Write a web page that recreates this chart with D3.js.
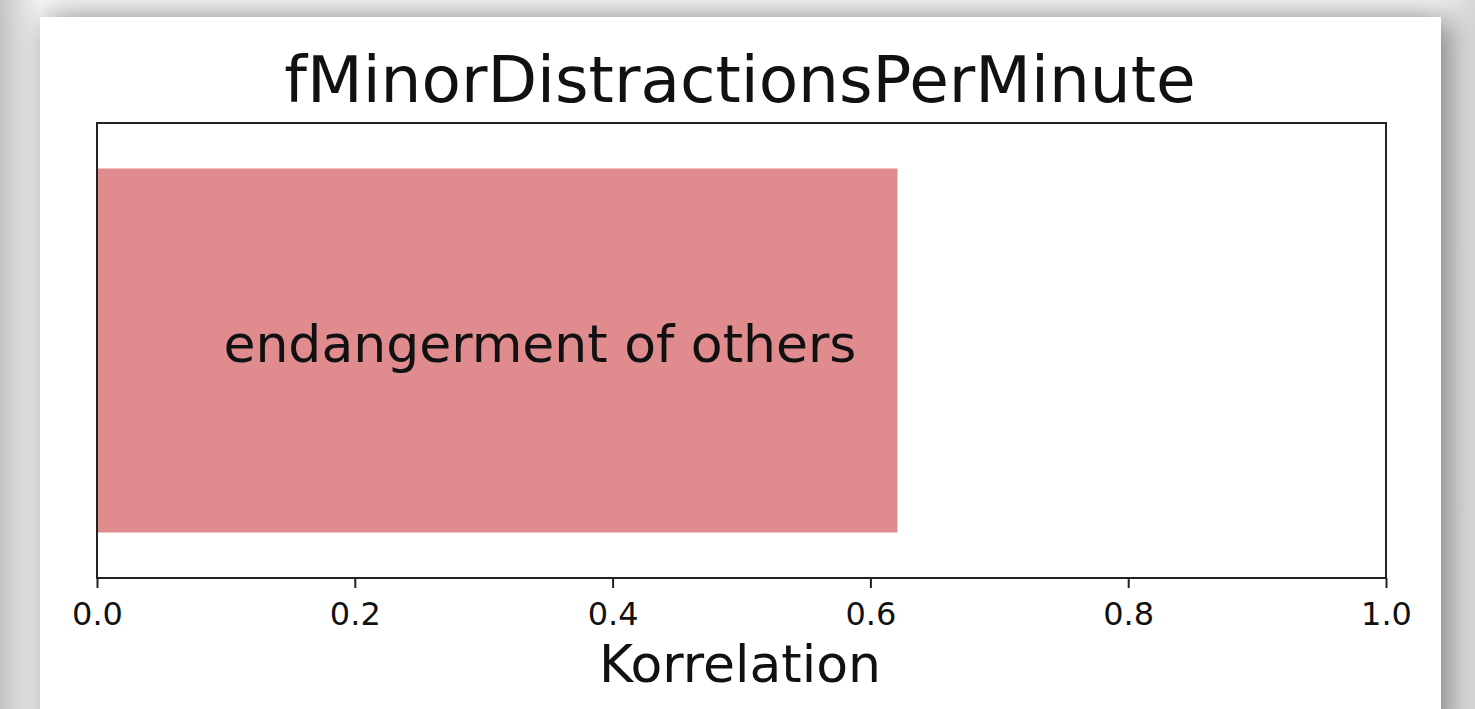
<!DOCTYPE html>
<html>
<head>
<meta charset="utf-8">
<script src="https://cdn.jsdelivr.net/npm/d3@7"></script>
<style>
  html, body { margin: 0; padding: 0; width: 1475px; height: 709px; overflow: hidden;
               background: linear-gradient(to right, #c4c4c4 0px, #f6f6f6 40px, #f6f6f6 1435px, #d8d8d8 1475px); }
  #card { position: absolute; left: 40px; top: 17px; width: 1401px; height: 720px; background: #fff;
          box-shadow: 8px 2px 30px rgba(0,0,0,0.5); }
  #chart { position: absolute; left: 0; top: 0; }
  text { font-family: "DejaVu Sans", sans-serif; fill: #111; }
</style>
</head>
<body>
<div id="card"></div>
<div id="chart"></div>
<script>
// chart data
const title = 'fMinorDistractionsPerMinute';
const categories = ['endangerment of others'];
const values = [0.621];
const xTicks = [0.0, 0.2, 0.4, 0.6, 0.8, 1.0];
const xLabel = 'Korrelation';

(function () {
   const width = 1475;
   const height = 709;

   // plot area in page pixels
   const left = 97, right = 1386, top = 123, bottom = 578;

   const svg = d3.select('#chart')
      .append('svg')
      .attr('width', width)
      .attr('height', height);

   const x = d3.scaleLinear()
      .domain([0, 1])
      .range([left, right]);

   // bar height 0.8 of a unit, like matplotlib barh
   const y = d3.scaleBand()
      .domain(categories)
      .range([top, bottom])
      .paddingInner(0.2)
      .paddingOuter(0.1);

   // bars
   svg.append('g')
      .selectAll('rect')
      .data(categories)
      .join('rect')
      .attr('x', x(0))
      .attr('y', d => y(d))
      .attr('width', (d, i) => x(values[i]) - x(0))
      .attr('height', y.bandwidth())
      .attr('fill', '#e08b8e');

   // bar labels, right aligned inside the bar
   svg.append('g')
      .selectAll('text')
      .data(categories)
      .join('text')
      .attr('x', (d, i) => x(values[i]) - 41)
      .attr('y', d => y(d) + y.bandwidth() / 2)
      .attr('dy', '0.22em')
      .attr('text-anchor', 'end')
      .style('font-size', '52px')
      .text(d => d);

   // x axis
   const xAxis = svg.append('g')
      .attr('transform', `translate(0,${bottom})`)
      .call(d3.axisBottom(x)
         .tickValues(xTicks)
         .tickSize(10)
         .tickPadding(14)
         .tickFormat(d3.format('.1f')));
   xAxis.select('.domain').remove();
   xAxis.selectAll('line').attr('stroke', '#222').attr('stroke-width', 2);
   xAxis.selectAll('text')
      .attr('font-family', null)
      .style('font-size', '32px')
      .attr('fill', '#222');

   // frame
   svg.append('rect')
      .attr('x', left)
      .attr('y', top)
      .attr('width', right - left)
      .attr('height', bottom - top)
      .attr('fill', 'none')
      .attr('stroke', '#222')
      .attr('stroke-width', 2);

   // title
   svg.append('text')
      .attr('x', 740)
      .attr('y', 102)
      .attr('text-anchor', 'middle')
      .style('font-size', '64.5px')
      .text(title);

   // axis label
   svg.append('text')
      .attr('x', 740)
      .attr('y', 682)
      .attr('text-anchor', 'middle')
      .style('font-size', '52px')
      .text(xLabel);
})();
</script>
</body>
</html>
